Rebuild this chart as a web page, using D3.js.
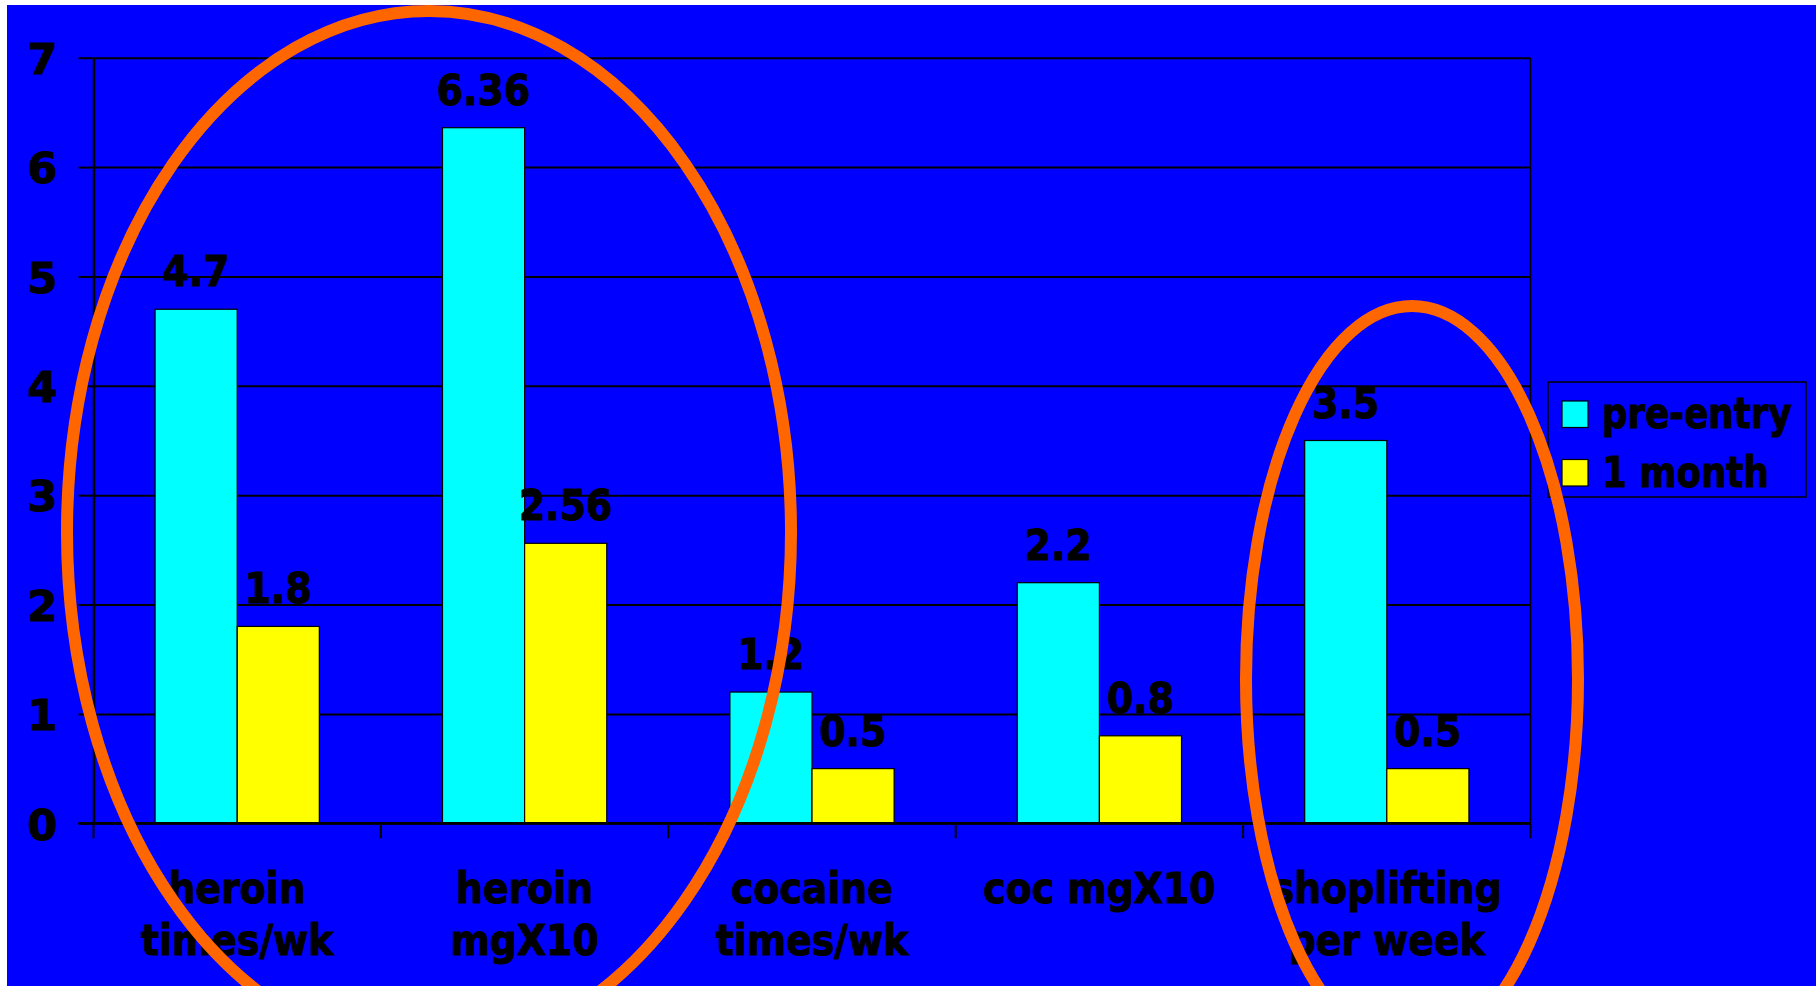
<!DOCTYPE html>
<html>
<head>
<meta charset="utf-8">
<script src="https://cdn.jsdelivr.net/npm/d3@7"></script>
<style>
  html, body { margin: 0; padding: 0; background: #ffffff; }
  svg { display: block; }
  text { font-family: "DejaVu Sans", Verdana, sans-serif; font-weight: bold; fill: #000; stroke: #000; stroke-width: 1.1px; }
</style>
</head>
<body>
<svg id="chart" width="1816" height="986"></svg>
<script>
// Category labels (one entry per line)
const categories = [
  ["heroin", "times/wk"],
  ["heroin", "mgX10"],
  ["cocaine", "times/wk"],
  ["coc mgX10"],
  ["shoplifting", "per week"]
];
const seriesNames = ["pre-entry", "1 month"];
const seriesColors = ["#00FFFF", "#FFFF00"];
const preEntry = [4.7, 6.36, 1.2, 2.2, 3.5];
const oneMonth = [1.8, 2.56, 0.5, 0.8, 0.5];
const valueLabels = [["4.7", "6.36", "1.2", "2.2", "3.5"], ["1.8", "2.56", "0.5", "0.8", "0.5"]];
const yTicks = [0, 1, 2, 3, 4, 5, 6, 7];

const W = 1816, H = 986;
const plot = { left: 93.5, right: 1530.5, top: 57.7, bottom: 823.3 };
const FONT = 43;
const SQUEEZE = 0.88;   // narrow the bold face a little

const svg = d3.select("#chart");

// slide background
svg.append("rect").attr("x", 7).attr("y", 5).attr("width", W - 7).attr("height", H - 5)
  .attr("fill", "#0000FF");

const idx = d3.range(categories.length);
const x0 = d3.scaleBand().domain(idx).range([plot.left, plot.right]).paddingInner(0).paddingOuter(0);
const x1 = d3.scaleBand().domain(d3.range(seriesNames.length)).range([0, x0.bandwidth()])
  .paddingInner(0).paddingOuter(0.75);
const y = d3.scaleLinear().domain([0, 7]).range([plot.bottom, plot.top]);

function squeeze(sel, f) {
  const k = f || SQUEEZE;
  sel.each(function () {
    const len = this.getComputedTextLength();
    if (len > 0) {
      d3.select(this).attr("textLength", len * k).attr("lengthAdjust", "spacingAndGlyphs");
    }
  });
}

// gridlines
const grid = svg.append("g").attr("transform", `translate(${plot.left},0)`)
  .call(d3.axisLeft(y).tickValues(yTicks).tickSize(-(plot.right - plot.left)).tickFormat(""));
grid.select(".domain").remove();
grid.selectAll("line").attr("stroke", "#000").attr("stroke-width", 2);

// y axis with outward ticks
const yAxis = svg.append("g").attr("transform", `translate(${plot.left},0)`)
  .call(d3.axisLeft(y).tickValues(yTicks).tickSize(15).tickSizeOuter(0).tickFormat(d3.format("d")));
yAxis.select(".domain").attr("stroke", "#000").attr("stroke-width", 2.5);
yAxis.selectAll("line").attr("stroke", "#000").attr("stroke-width", 2);
yAxis.selectAll("text")
  .attr("x", -36).attr("dy", null).attr("y", FONT * 0.365)
  .attr("font-size", FONT).attr("font-family", "DejaVu Sans").attr("font-weight", "bold")
  .attr("fill", "#000").attr("text-anchor", "end");

// plot area right border
svg.append("line").attr("x1", plot.right).attr("x2", plot.right)
  .attr("y1", plot.top).attr("y2", plot.bottom).attr("stroke", "#000").attr("stroke-width", 1.5);

// bars
const seriesData = [preEntry, oneMonth];
seriesData.forEach((vals, s) => {
  svg.append("g").selectAll("rect").data(vals).join("rect")
    .attr("x", (d, i) => x0(i) + x1(s))
    .attr("width", x1.bandwidth())
    .attr("y", d => y(d))
    .attr("height", d => y(0) - y(d))
    .attr("fill", seriesColors[s])
    .attr("stroke", "#000").attr("stroke-width", 1.2);
});

// x axis line and category ticks
svg.append("line").attr("x1", plot.left - 15).attr("x2", plot.right)
  .attr("y1", y(0)).attr("y2", y(0)).attr("stroke", "#000").attr("stroke-width", 2.5);
const bounds = idx.map(i => x0(i)).concat([x0(idx[idx.length - 1]) + x0.bandwidth()]);
svg.append("g").selectAll("line").data(bounds).join("line")
  .attr("x1", d => d).attr("x2", d => d)
  .attr("y1", y(0)).attr("y2", y(0) + 15)
  .attr("stroke", "#000").attr("stroke-width", 2);

// value labels
seriesData.forEach((vals, s) => {
  svg.append("g").selectAll("text").data(vals).join("text")
    .attr("x", (d, i) => x0(i) + x1(s) + x1.bandwidth() / 2)
    .attr("y", d => y(d) - 23)
    .attr("text-anchor", "middle").attr("font-size", FONT)
    .text((d, i) => valueLabels[s][i])
    .call(squeeze);
});

// category labels
const catG = svg.append("g");
categories.forEach((lines, i) => {
  lines.forEach((ln, k) => {
    catG.append("text")
      .attr("x", x0(i) + x0.bandwidth() / 2)
      .attr("y", 902.5 + k * 52.3)
      .attr("text-anchor", "middle").attr("font-size", FONT)
      .text(ln)
      .call(squeeze);
  });
});

// legend
const lg = svg.append("g");
lg.append("rect").attr("x", 1548).attr("y", 382).attr("width", 258).attr("height", 115)
  .attr("fill", "#0000FF").attr("stroke", "#000").attr("stroke-width", 1.5);
seriesNames.forEach((name, s) => {
  lg.append("rect").attr("x", 1562).attr("y", 401 + s * 58.5).attr("width", 26).attr("height", 26.5)
    .attr("fill", seriesColors[s]).attr("stroke", "#000").attr("stroke-width", 1.2);
  lg.append("text").attr("x", 1602).attr("y", 428 + s * 58.5)
    .attr("font-size", FONT).text(name).call(squeeze, 0.83);
});

// orange highlight rings drawn over the chart
const rings = [
  { cx: 429, cy: 532, rx: 362, ry: 521 },
  { cx: 1412, cy: 679, rx: 166, ry: 373 }
];
svg.append("g").selectAll("ellipse").data(rings).join("ellipse")
  .attr("cx", d => d.cx).attr("cy", d => d.cy)
  .attr("rx", d => d.rx).attr("ry", d => d.ry)
  .attr("fill", "none").attr("stroke", "#FF6600").attr("stroke-width", 12);
</script>
</body>
</html>
